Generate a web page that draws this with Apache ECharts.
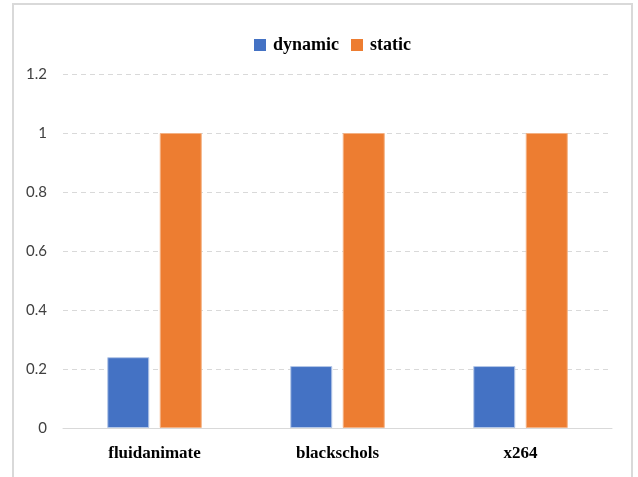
<!DOCTYPE html>
<html>
<head>
<meta charset="utf-8">
<script src="https://cdn.jsdelivr.net/npm/echarts@6/dist/echarts.min.js"></script>
<style>
  html, body { margin: 0; padding: 0; background: #ffffff; }
  #chart { width: 638px; height: 477px; }
</style>
</head>
<body>
<div id="chart"></div>
<script>
// Benchmarks and normalised results for each scheduling mode
const categories = ['fluidanimate', 'blackschols', 'x264'];
const dynamicValues = [0.24, 0.21, 0.21];
const staticValues = [1, 1, 1];
const seriesNames = ['dynamic', 'static'];

const chart = echarts.init(document.getElementById('chart'), null, { renderer: 'canvas' });

chart.setOption({
  backgroundColor: '#ffffff',
  animation: false,
  graphic: [{
    type: 'polyline',
    silent: true,
    shape: { points: [[13, 490], [13, 4], [632, 4], [632, 490]] },
    style: { stroke: '#d9d9d9', lineWidth: 2, fill: null }
  }],
  legend: {
    data: seriesNames,
    top: 31,
    left: 249,
    itemWidth: 12,
    itemHeight: 12,
    itemGap: 12,
    icon: 'rect',
    itemStyle: { borderWidth: 0 },
    textStyle: {
      fontFamily: 'Liberation Serif',
      fontWeight: 'bold',
      fontSize: 18,
      color: '#000000',
      padding: [0, 0, 0, 2]
    }
  },
  grid: { left: 63, right: 26, top: 74, bottom: 49, containLabel: false },
  xAxis: {
    type: 'category',
    data: categories,
    axisLine: { lineStyle: { color: '#d9d9d9', width: 1 } },
    axisTick: { show: false },
    axisLabel: {
      margin: 17,
      fontFamily: 'Liberation Serif',
      fontWeight: 'bold',
      fontSize: 17,
      color: '#000000'
    }
  },
  yAxis: {
    type: 'value',
    min: 0,
    max: 1.2,
    interval: 0.2,
    axisLine: { show: false },
    axisTick: { show: false },
    axisLabel: {
      margin: 16,
      fontFamily: 'Lato',
      fontSize: 15,
      color: '#404040',
      formatter: v => String(Math.round(v * 10) / 10)
    },
    splitLine: { lineStyle: { color: '#d9d9d9', type: [5, 4], width: 1 } }
  },
  series: [
    {
      name: 'dynamic',
      type: 'bar',
      data: dynamicValues,
      barWidth: 42,
      barGap: '25%',
      itemStyle: { color: '#4472c4', borderColor: '#b4c7e7', borderWidth: 1 }
    },
    {
      name: 'static',
      type: 'bar',
      data: staticValues,
      barWidth: 42,
      itemStyle: { color: '#ed7d31', borderColor: '#f4b183', borderWidth: 1 }
    }
  ]
});
</script>
</body>
</html>
